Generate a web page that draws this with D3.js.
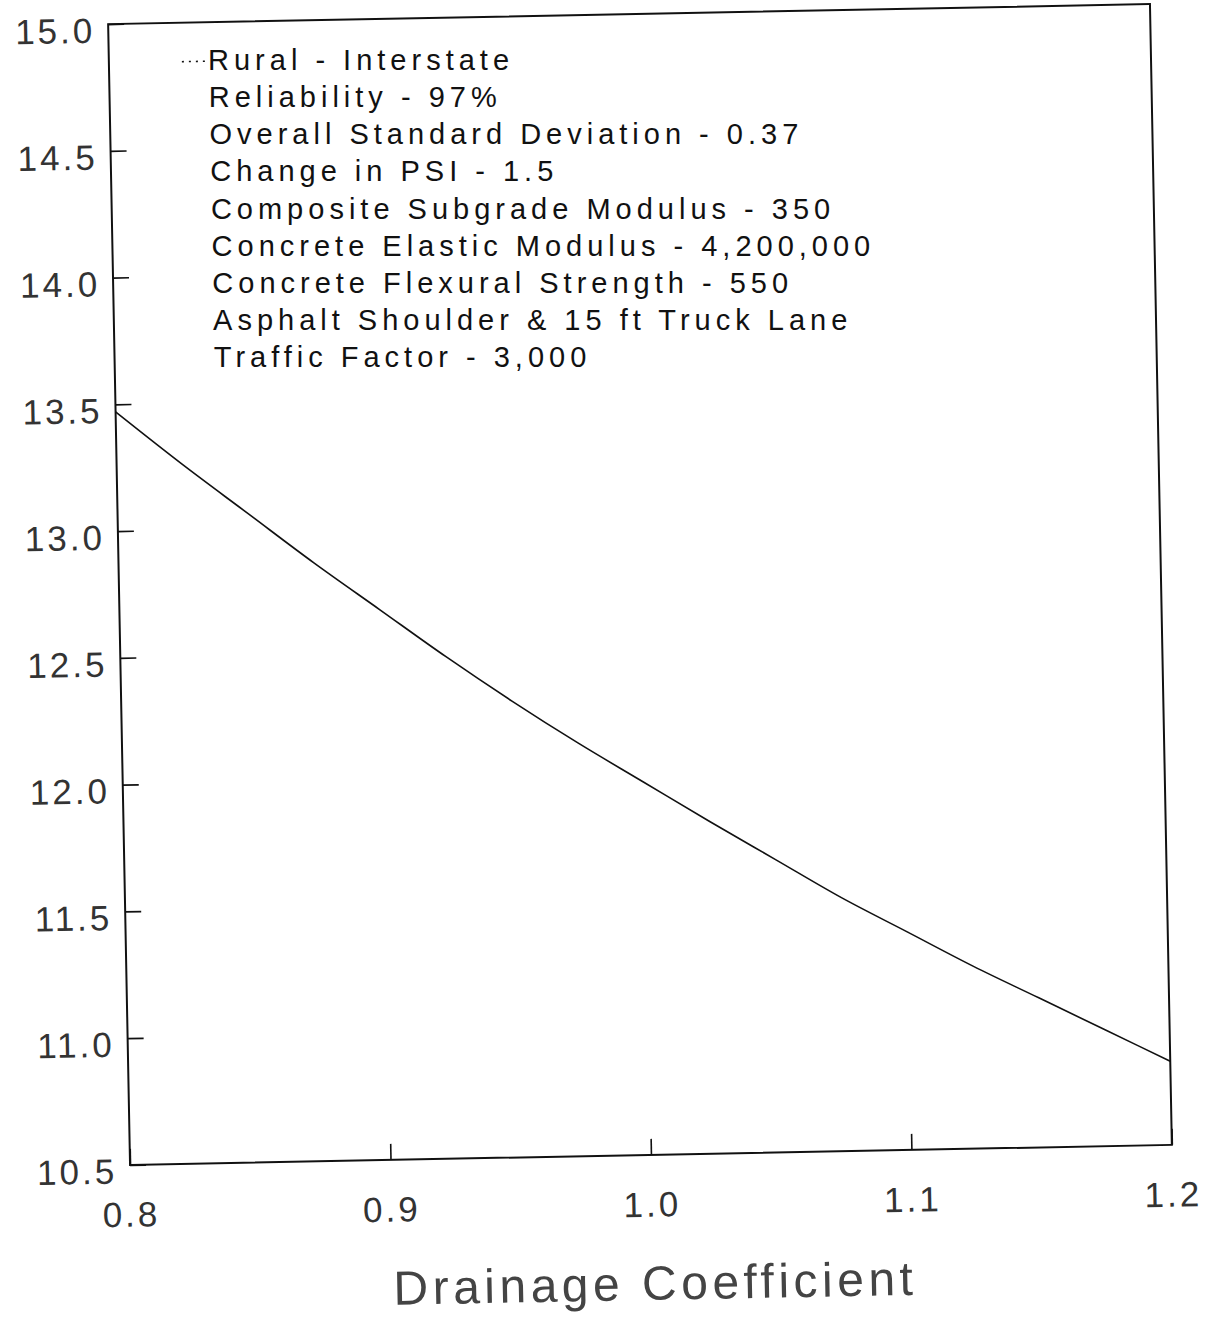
<!DOCTYPE html>
<html>
<head>
<meta charset="utf-8">
<script src="https://cdn.jsdelivr.net/npm/d3@7"></script>
<style>
  body { margin: 0; background: #fff; }
  text { font-family: "Liberation Sans", Arial, Helvetica, sans-serif; }
</style>
</head>
<body>
<script>
// drainage coefficient vs. value
var COEF = [0.8, 0.825, 0.85, 0.875, 0.9, 0.925, 0.95, 0.975, 1.0, 1.025, 1.05, 1.075, 1.1, 1.125, 1.15, 1.175, 1.2];
var VALUES = [13.47, 13.26, 13.06, 12.86, 12.67, 12.48, 12.30, 12.13, 11.97, 11.81, 11.655, 11.50, 11.36, 11.22, 11.09, 10.96, 10.83];

var XTICKS = [0.8, 0.9, 1.0, 1.1, 1.2];
var YTICKS = [10.5, 11.0, 11.5, 12.0, 12.5, 13.0, 13.5, 14.0, 14.5, 15.0];

var NOTES = [
  "Rural - Interstate",
  "Reliability - 97%",
  "Overall Standard Deviation - 0.37",
  "Change in PSI - 1.5",
  "Composite Subgrade Modulus - 350",
  "Concrete Elastic Modulus - 4,200,000",
  "Concrete Flexural Strength - 550",
  "Asphalt Shoulder & 15 ft Truck Lane",
  "Traffic Factor - 3,000"
];
var XTITLE = "Drainage Coefficient";

var W = 1217, H = 1317;
// frame of the plot (before the slight tilt of the scanned page)
var frame = { left: 119, right: 1161, top: 14, bottom: 1155 };
var TILT = -1.1;
var cx = (frame.left + frame.right) / 2, cy = (frame.top + frame.bottom) / 2;

var svg = d3.select("body").append("svg").attr("width", W).attr("height", H);
svg.append("rect").attr("width", W).attr("height", H).attr("fill", "#fff");

var g = svg.append("g").attr("transform", "rotate(" + TILT + "," + cx + "," + cy + ")");

// where a point of the untilted frame ends up on the page
function tilted(px, py) {
  var a = TILT * Math.PI / 180;
  var dx = px - cx, dy = py - cy;
  return [cx + dx * Math.cos(a) - dy * Math.sin(a), cy + dx * Math.sin(a) + dy * Math.cos(a)];
}

var x = d3.scaleLinear().domain([0.8, 1.2]).range([frame.left, frame.right]);
var y = d3.scaleLinear().domain([10.5, 15]).range([frame.bottom, frame.top]);

// axes
var yAxis = g.append("g").attr("transform", "translate(" + frame.left + ",0)")
  .call(d3.axisLeft(y).tickValues(YTICKS).tickFormat(d3.format(".1f")).tickSize(-16).tickPadding(13));
var xAxis = g.append("g").attr("transform", "translate(0," + frame.bottom + ")")
  .call(d3.axisBottom(x).tickValues(XTICKS).tickFormat(d3.format(".1f")).tickSize(-16).tickPadding(37));

[xAxis, yAxis].forEach(function (a) {
  a.select(".domain").remove();
  a.selectAll(".tick line").attr("stroke", "#111").attr("stroke-width", 1.6);
  a.selectAll(".tick text")
    .attr("fill", "#333")
    .style("font-size", "35px")
    .style("letter-spacing", "3px")
    .style("font-family", "'Liberation Sans', Arial, Helvetica, sans-serif");
});
yAxis.selectAll(".tick text").attr("dy", "0.51em");

// frame
g.append("rect")
  .attr("x", frame.left).attr("y", frame.top)
  .attr("width", frame.right - frame.left).attr("height", frame.bottom - frame.top)
  .attr("fill", "none").attr("stroke", "#111").attr("stroke-width", 2);

// curve
var line = d3.line()
  .x(function (d, i) { return x(COEF[i]); })
  .y(function (d) { return y(d); })
  .curve(d3.curveMonotoneX);

g.append("path").datum(VALUES)
  .attr("d", line)
  .attr("fill", "none").attr("stroke", "#111").attr("stroke-width", 1.6);

// notes block (lines kept level so they do not run into each other)
var noteX = 218, noteY = 62, noteStep = 37.1;
g.append("line")
  .attr("x1", noteX - 26).attr("x2", noteX - 2)
  .attr("y1", noteY - 9).attr("y2", noteY - 9)
  .attr("stroke", "#111").attr("stroke-width", 1.6).attr("stroke-dasharray", "2,5");

svg.selectAll("text.note").data(NOTES).enter().append("text")
  .attr("class", "note")
  .attr("transform", function (d, i) {
    var p = tilted(noteX, noteY + i * noteStep);
    return "translate(" + p[0] + "," + p[1] + ")";
  })
  .attr("fill", "#111")
  .style("font-size", "29px")
  .style("letter-spacing", "5px")
  .text(function (d) { return d; });

// x title
g.append("text")
  .attr("x", cx + 2)
  .attr("y", 1300)
  .attr("text-anchor", "middle")
  .attr("fill", "#444")
  .style("font-size", "48px")
  .style("letter-spacing", "4.5px")
  .text(XTITLE);
</script>
</body>
</html>
